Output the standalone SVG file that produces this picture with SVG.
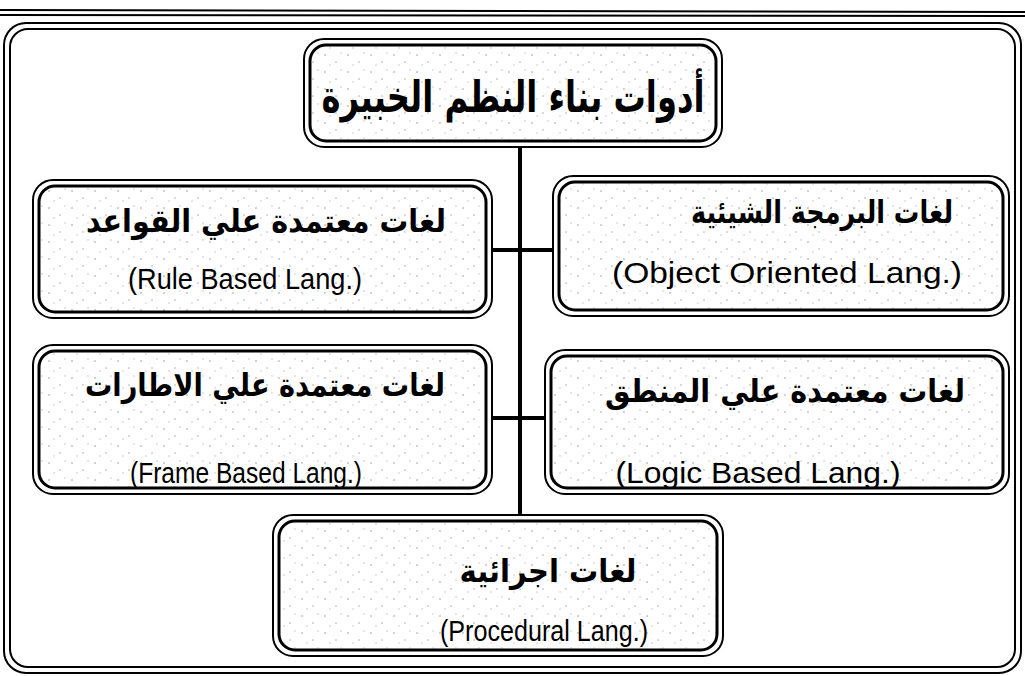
<svg xmlns="http://www.w3.org/2000/svg" width="1025" height="676" viewBox="0 0 1025 676">
<style>
.o{fill:none;stroke:#000;stroke-width:2}
.i{fill:url(#dots);stroke:#000;stroke-width:3}
.ar{font-family:"DejaVu Sans","Noto Sans",sans-serif;font-weight:bold;fill:#000;text-anchor:middle}
.en{font-family:"Liberation Sans",Arial,sans-serif;font-size:30px;fill:#000;text-anchor:middle}
.c{stroke:#000;stroke-width:4;fill:none}
</style>
<defs>
<pattern id="dots" width="23" height="17" patternUnits="userSpaceOnUse">
<rect width="23" height="17" fill="#fff"/>
<circle cx="3" cy="4" r="0.8" fill="#999"/>
<circle cx="14" cy="11" r="0.8" fill="#aaa"/>
<circle cx="19" cy="2" r="0.7" fill="#bbb"/>
<circle cx="8" cy="14" r="0.7" fill="#bbb"/>
</pattern>
</defs>
<g id="page">
<line x1="0" y1="10" x2="1025" y2="12" stroke="#000" stroke-width="2"/>
<line x1="0" y1="15" x2="1025" y2="16" stroke="#000" stroke-width="2"/>
<rect x="4" y="23" width="1017" height="650" rx="22" class="o"/>
<rect x="10" y="29" width="1005" height="638" rx="18" fill="none" stroke="#000" stroke-width="2"/>
</g>
<g id="connectors">
<line x1="520" y1="146" x2="520" y2="516" class="c"/>
<line x1="492" y1="250" x2="553" y2="250" class="c"/>
<line x1="492" y1="418" x2="545" y2="418" class="c"/>
</g>
<g id="title">
<rect x="304" y="39" width="418" height="108" rx="20" class="o"/>
<rect x="310" y="45" width="406" height="96" rx="16" class="i"/>
<text x="513" y="112" class="ar" font-size="44" direction="rtl" textLength="383" lengthAdjust="spacingAndGlyphs">أدوات بناء النظم الخبيرة</text>
</g>
<g id="rule">
<rect x="33" y="180" width="459" height="138" rx="20" class="o"/>
<rect x="39" y="186" width="447" height="126" rx="16" class="i"/>
<text x="266" y="232" class="ar" font-size="32" direction="rtl" textLength="360" lengthAdjust="spacingAndGlyphs">لغات معتمدة علي القواعد</text>
<text x="245" y="289" class="en" textLength="234" lengthAdjust="spacingAndGlyphs">(Rule Based Lang.)</text>
</g>
<g id="object">
<rect x="553" y="176" width="456" height="140" rx="20" class="o"/>
<rect x="559" y="182" width="444" height="128" rx="16" class="i"/>
<text x="822" y="223" class="ar" font-size="32" direction="rtl" textLength="262" lengthAdjust="spacingAndGlyphs">لغات البرمجة الشيئية</text>
<text x="787" y="283" class="en" textLength="350" lengthAdjust="spacingAndGlyphs">(Object Oriented Lang.)</text>
</g>
<g id="frame">
<rect x="33" y="345" width="459" height="149" rx="20" class="o"/>
<rect x="39" y="351" width="447" height="137" rx="16" class="i"/>
<text x="265" y="396" class="ar" font-size="32" direction="rtl" textLength="360" lengthAdjust="spacingAndGlyphs">لغات معتمدة علي الاطارات</text>
<text x="246" y="483" class="en" textLength="232" lengthAdjust="spacingAndGlyphs">(Frame Based Lang.)</text>
</g>
<g id="logic">
<rect x="545" y="350" width="464" height="144" rx="20" class="o"/>
<rect x="551" y="356" width="452" height="132" rx="16" class="i"/>
<text x="785" y="402" class="ar" font-size="32" direction="rtl" textLength="360" lengthAdjust="spacingAndGlyphs">لغات معتمدة علي المنطق</text>
<text x="758" y="483" class="en" textLength="285" lengthAdjust="spacingAndGlyphs">(Logic Based Lang.)</text>
</g>
<g id="procedural">
<rect x="273" y="515" width="450" height="141" rx="20" class="o"/>
<rect x="279" y="521" width="438" height="129" rx="16" class="i"/>
<text x="548" y="582" class="ar" font-size="32" direction="rtl" textLength="177" lengthAdjust="spacingAndGlyphs">لغات اجرائية</text>
<text x="544" y="641" class="en" textLength="208" lengthAdjust="spacingAndGlyphs">(Procedural Lang.)</text>
</g>
</svg>
